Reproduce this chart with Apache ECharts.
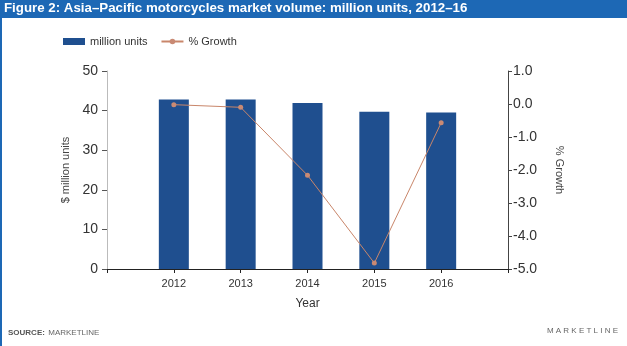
<!DOCTYPE html>
<html>
<head>
<meta charset="utf-8">
<script src="https://cdn.jsdelivr.net/npm/echarts@6/dist/echarts.min.js"></script>
<style>
html,body{margin:0;padding:0;background:#fff;}
#chart{width:627px;height:346px;}
</style>
</head>
<body>
<div id="chart"></div>
<script>
const years = [2012, 2013, 2014, 2015, 2016];
const volumes = [42.8, 42.8, 41.9, 39.7, 39.5];
const growth = [-0.02, -0.1, -2.16, -4.82, -0.57];
const leftTicks = [0, 10, 20, 30, 40, 50];
const rightTicks = [-5, -4, -3, -2, -1, 0, 1];

const FONT = '"Liberation Sans", Arial, sans-serif';
const chart = echarts.init(document.getElementById('chart'), null, {renderer: 'canvas'});

chart.setOption({
  animation: false,
  backgroundColor: '#fff',
  textStyle: {fontFamily: FONT},
  graphic: [
    {type: 'rect', left: 0, top: 0, shape: {width: 627, height: 18}, style: {fill: '#1d68b5'}, z: 10},
    {type: 'rect', left: 0, top: 0, shape: {width: 2, height: 346}, style: {fill: '#1d68b5'}, z: 10},
    {type: 'text', left: 4, top: 2, style: {text: 'Figure 2: Asia\u2013Pacific motorcycles market volume: million units, 2012\u201316', fill: '#fff', font: 'bold 13.3px ' + FONT}, z: 11},
    {type: 'text', left: 8, top: 327, style: {rich: {b: {fontWeight: 'bold', fontSize: 8, fill: '#555', fontFamily: FONT}, n: {fontSize: 8, fill: '#666', fontFamily: FONT}}, text: '{b|SOURCE:} {n|MARKETLINE}'}, z: 11},
    {type: 'text', right: 9, top: 327, style: {text: 'M A R K E T L I N E', fill: '#666', font: '8px ' + FONT}, z: 11}
  ],
  legend: {
    left: 63, top: 36, padding: 0,
    itemWidth: 22, itemHeight: 7, itemGap: 13,
    textStyle: {fontSize: 11, color: '#333', fontFamily: FONT},
    data: [
      {name: 'million units', icon: 'rect'},
      {name: '% Growth'}
    ]
  },
  grid: {left: 107, right: 119, top: 71, bottom: 77, containLabel: false},
  xAxis: {
    type: 'value', min: 2011, max: 2017, interval: 1,
    name: 'Year', nameLocation: 'middle', nameGap: 29,
    nameTextStyle: {fontSize: 12, color: '#333'},
    axisLine: {show: true, onZero: false, lineStyle: {color: '#222', width: 1}},
    axisTick: {show: true, length: 4, lineStyle: {color: '#222'}},
    axisLabel: {fontSize: 11, color: '#333', margin: 9,
      formatter: v => (years.indexOf(v) >= 0 ? String(v) : '')},
    splitLine: {show: false}
  },
  yAxis: [
    {
      type: 'value', min: leftTicks[0], max: leftTicks[leftTicks.length - 1], interval: 10,
      name: '$ million units', nameLocation: 'middle', nameGap: 36, nameRotate: 90,
      nameTextStyle: {fontSize: 11, color: '#444'},
      axisLine: {show: true, lineStyle: {color: '#bbb'}},
      axisTick: {show: true, length: 5, lineStyle: {color: '#555'}},
      axisLabel: {fontSize: 14, color: '#333', margin: 9},
      splitLine: {show: false}
    },
    {
      type: 'value', min: rightTicks[0], max: rightTicks[rightTicks.length - 1], interval: 1,
      name: '% Growth', nameLocation: 'middle', nameGap: 46, nameRotate: -90,
      nameTextStyle: {fontSize: 11, color: '#444'},
      axisLine: {show: true, lineStyle: {color: '#444'}},
      axisTick: {show: true, length: 4, lineStyle: {color: '#444'}},
      axisLabel: {fontSize: 14, color: '#333', margin: 5, formatter: v => v.toFixed(1)},
      splitLine: {show: false}
    }
  ],
  series: [
    {
      name: 'million units', type: 'bar', yAxisIndex: 0, barWidth: 30,
      itemStyle: {color: '#1f4f8f'},
      data: years.map((y, i) => [y, volumes[i]])
    },
    {
      name: '% Growth', type: 'line', yAxisIndex: 1,
      symbol: 'circle', symbolSize: 5,
      lineStyle: {color: '#c9866a', width: 1},
      itemStyle: {color: '#c98a74'},
      data: years.map((y, i) => [y, growth[i]]),
      z: 5
    }
  ]
});
</script>
</body>
</html>
